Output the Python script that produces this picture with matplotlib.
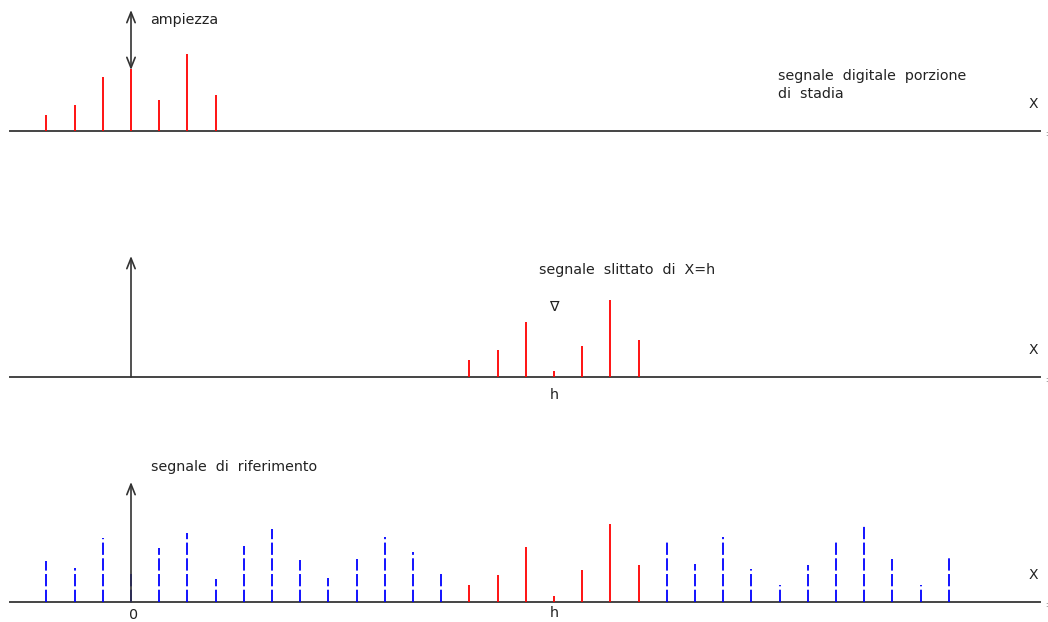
import matplotlib.pyplot as plt

# sample index positions (0 = origin) and amplitudes
top_pos = [-3, -2, -1, 0, 1, 2, 3]
top_amp = [16, 26, 54, 62, 31, 77, 36]

mid_pos = [12, 13, 14, 15, 16, 17, 18]
mid_amp = [17, 27, 55, 6, 31, 77, 37]

ref_pos = list(range(-3, 30))
ref_amp = [41, 34, 64, 29, 54, 69, 23, 56, 73, 42, 24, 43, 65, 50, 29,
           17, 27, 55, 6, 32, 78, 37,
           60, 38, 65, 33, 17, 37, 60, 78, 43, 17, 47]
# samples of the reference that match the shifted signal
match_pos = mid_pos

W, H = 1048, 622
fig = plt.figure(figsize=(W / 100, H / 100), dpi=100)
plt.rcParams['font.family'] = 'DejaVu Sans'

# x range in sample units (28.2 px per sample, origin at pixel 131)
px = 28.2
x0 = 131
xlim = (-x0 / px, (W - x0) / px)

# (top pixel, bottom pixel, baseline pixel) for each band
bands = [(0, 200, 131), (200, 420, 377), (420, 622, 602)]
axes = []
for y0, y1, b in bands:
    ax = fig.add_axes([0, 1 - y1 / H, 1, (y1 - y0) / H])
    ax.set_xlim(*xlim)
    ax.set_ylim(-(y1 - b), b - y0)
    ax.axis('off')
    ax.axhline(0, xmin=10 / W, xmax=1040 / W, color='#444444', lw=1.4)
    ax.text(1046 / W, -3, ':', transform=ax.get_yaxis_transform(),
            fontsize=5, ha='center', va='center', color='#555555')
    ax.text(31.99, 27, 'X', fontsize=10, ha='center', va='center', color='#222222')
    axes.append(ax)
ax1, ax2, ax3 = axes

txt = dict(fontsize=10.3, color='#222222')

# top: digital signal of the rod portion
ax1.vlines(top_pos, 0, top_amp, color='red', lw=1.3)
ax1.annotate('', xy=(0, 61), xytext=(0, 121),
             arrowprops=dict(arrowstyle='<->, head_length=0.75, head_width=0.3',
                             color='#333333', lw=1.2, shrinkA=0, shrinkB=0))
ax1.text(0.67, 111, 'ampiezza', va='center', ha='left', **txt)
ax1.text(22.94, 46, 'segnale  digitale  porzione\ndi  stadia', va='center',
         ha='left', linespacing=1.3, **txt)

# middle: shifted signal
ax2.vlines(mid_pos, 0, mid_amp, color='red', lw=1.3)
ax2.annotate('', xy=(0, 121), xytext=(0, 0),
             arrowprops=dict(arrowstyle='->, head_length=0.75, head_width=0.3',
                             color='#333333', lw=1.2, shrinkA=0, shrinkB=0))
ax2.text(14.47, 107, 'segnale  slittato  di  X=h', va='center', ha='left', **txt)
ax2.text(15, 70, '∇', va='center', ha='center', **txt)
ax2.text(15, -18, 'h', va='center', ha='center', **txt)

# bottom: reference signal
blue_pos = [p for p in ref_pos if p not in match_pos]
blue_amp = [a for p, a in zip(ref_pos, ref_amp) if p not in match_pos]
red_amp = [a for p, a in zip(ref_pos, ref_amp) if p in match_pos]
ax3.vlines(blue_pos, 0, blue_amp, color='blue', lw=1.3,
           linestyles=[(0, (6.8, 1.9))])
ax3.vlines(match_pos, 0, red_amp, color='red', lw=1.3)
ax3.annotate('', xy=(0, 120), xytext=(0, 0),
             arrowprops=dict(arrowstyle='->, head_length=0.75, head_width=0.3',
                             color='#333333', lw=1.2, shrinkA=0, shrinkB=0))
ax3.text(0.71, 135, 'segnale  di  riferimento', va='center', ha='left', **txt)
ax3.text(0.1, -13, '0', va='center', ha='center', **txt)
ax3.text(15, -4, 'h', va='top', ha='center', **txt)

fig.savefig('out.png', dpi=100)
